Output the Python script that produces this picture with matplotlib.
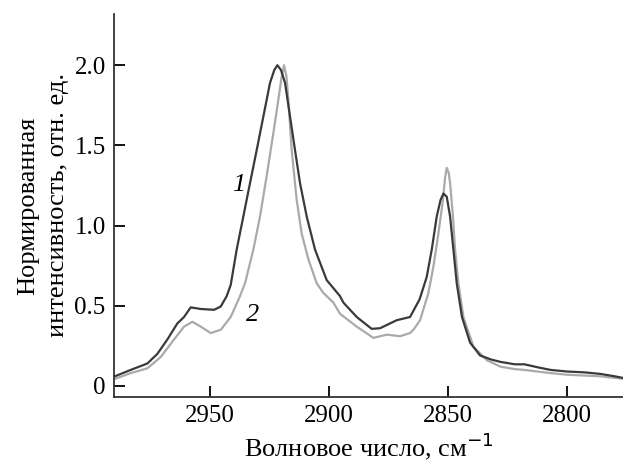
import matplotlib
matplotlib.use("Agg")
import matplotlib.pyplot as plt

plt.rcParams['font.family'] = ['Liberation Serif', 'DejaVu Serif']

# curve 1 (dark)
x1 = [2990.3, 2983.3, 2976.3, 2972.1, 2967.9, 2963.7, 2960.9, 2958.1, 2953.9,
      2948.3, 2945.5, 2943.0, 2941.3, 2938.8, 2936.0, 2933.2, 2930.4, 2927.6,
      2924.8, 2923.0, 2921.7, 2920.2, 2918.5, 2916.4, 2914.3, 2912.2, 2909.4,
      2905.9, 2901.0, 2895.4, 2894.0, 2888.4, 2882.1, 2878.6, 2871.6, 2866.0,
      2862.0, 2859.0, 2856.9, 2854.8, 2853.2, 2852.0, 2850.6, 2849.2, 2847.8,
      2846.4, 2844.2, 2840.8, 2836.6, 2832.0, 2828.0, 2822.0, 2818.0, 2812.0,
      2807.0, 2800.0, 2793.0, 2786.0, 2780.0, 2776.6]
y1 = [0.058, 0.10, 0.14, 0.20, 0.29, 0.39, 0.43, 0.49, 0.48,
      0.475, 0.495, 0.56, 0.63, 0.85, 1.057, 1.265, 1.47, 1.68,
      1.89, 1.97, 2.00, 1.97, 1.89, 1.68, 1.47, 1.265, 1.057,
      0.85, 0.66, 0.56, 0.52, 0.43, 0.356, 0.36, 0.41, 0.43,
      0.54, 0.68, 0.85, 1.057, 1.16, 1.20, 1.18, 1.057, 0.85,
      0.64, 0.43, 0.27, 0.19, 0.165, 0.15, 0.135, 0.135, 0.115,
      0.10, 0.09, 0.085, 0.075, 0.06, 0.05]

# curve 2 (light)
x2 = [2990.3, 2983.3, 2976.3, 2970.7, 2965.1, 2960.9, 2957.4, 2953.9, 2949.7,
      2945.5, 2941.3, 2937.4, 2935.3, 2931.8, 2929.0, 2926.2, 2923.4, 2921.3,
      2920.0, 2918.9, 2917.9, 2917.1, 2915.7, 2913.6, 2911.5, 2908.7, 2905.2,
      2902.4, 2898.2, 2895.4, 2888.4, 2881.4, 2875.8, 2870.2, 2866.0, 2864.6,
      2861.8, 2858.3, 2856.2, 2854.1, 2852.2, 2851.3, 2850.6, 2849.8, 2849.2,
      2848.0, 2847.1, 2845.7, 2843.6, 2839.4, 2833.7, 2828.0, 2822.0, 2818.0,
      2807.0, 2800.0, 2793.0, 2786.0, 2776.6]
y2 = [0.042, 0.08, 0.11, 0.18, 0.29, 0.37, 0.40, 0.37, 0.33,
      0.35, 0.43, 0.56, 0.64, 0.85, 1.057, 1.31, 1.577, 1.785,
      1.92, 2.00, 1.93, 1.785, 1.47, 1.16, 0.95, 0.79, 0.64,
      0.58, 0.52, 0.45, 0.37, 0.30, 0.32, 0.31, 0.33, 0.35,
      0.41, 0.58, 0.745, 0.95, 1.16, 1.30, 1.36, 1.33, 1.265,
      1.057, 0.85, 0.64, 0.43, 0.245, 0.16, 0.12, 0.105, 0.10,
      0.08, 0.07, 0.065, 0.06, 0.045]

xticks = [2950, 2900, 2850, 2800]
yticks = [0, 0.5, 1.0, 1.5, 2.0]
ytick_labels = ["0", "0.5", "1.0", "1.5", "2.0"]

fig = plt.figure(figsize=(6.23, 4.63), dpi=100)
ax = fig.add_axes([0.183, 0.1425, 0.817, 0.8275])

ax.plot(x2, y2, color="#aaaaaa", lw=1.6)
ax.plot(x1, y1, color="#3a3a3a", lw=1.6)

ax.set_xlim(2990.3, 2776.6)
ax.set_ylim(-0.069, 2.32)
ax.set_xticks(xticks)
ax.set_yticks(yticks)
ax.set_yticklabels(ytick_labels)
ax.tick_params(direction="in", length=8, width=1.3, labelsize=18, pad=6)
ax.spines["top"].set_visible(False)
ax.spines["right"].set_visible(False)
for s in ("left", "bottom"):
    ax.spines[s].set_linewidth(1.3)
    ax.spines[s].set_color("#333333")

ax.set_xlabel("Волновое число, см$^{-1}$", fontsize=19, labelpad=2)
ax.set_ylabel("Нормированная\nинтенсивность, отн. ед.", fontsize=19,
              linespacing=1.45, labelpad=4)

ax.text(2937.8, 1.255, "1", fontsize=19, style="italic", ha="center", va="center")
ax.text(2931.9, 0.44, "2", fontsize=19, style="italic", ha="center", va="center")

fig.savefig("out.png", dpi=100)
